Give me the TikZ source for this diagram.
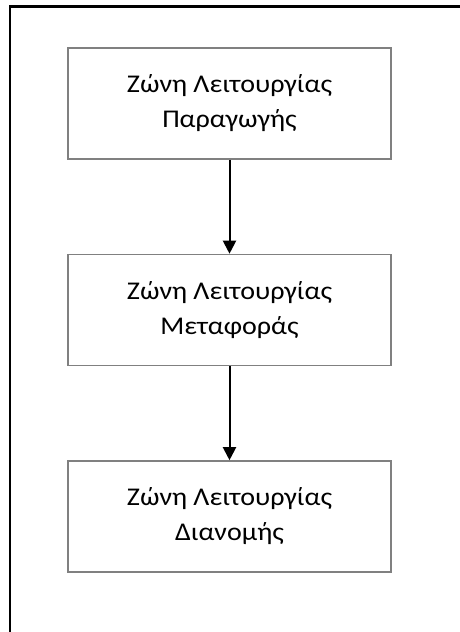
\documentclass[tikz,border=0pt]{standalone}
\usepackage{fontspec}
\setmainfont{Carlito}[FakeStretch=1.1]
\usetikzlibrary{arrows.meta}
\definecolor{boxline}{RGB}{128,128,128}
\begin{document}
\begin{tikzpicture}[x=1pt,y=-1pt,
  zone/.style={draw=boxline,line width=1.6pt,fill=white,minimum width=323pt,
    minimum height=111pt,inner sep=0pt,align=center,
    font=\fontsize{25.5}{35}\selectfont},
  flow/.style={draw=black,line width=2pt,-{Triangle[width=13pt,length=13pt]}}]
  \useasboundingbox (0,0) rectangle (459,632);
  \fill[white] (0,0) rectangle (459,632);
  % outer frame, running off the right and bottom edges
  \draw[black,line width=2.2pt] (10,640) -- (10,6.5) -- (470,6.5);
  \node[zone] (prod) at (229.5,103.5) {Ζώνη Λειτουργίας\\Παραγωγής};
  \node[zone] (trans) at (229.5,310) {Ζώνη Λειτουργίας\\Μεταφοράς};
  \node[zone] (dist) at (229.5,516.5) {Ζώνη Λειτουργίας\\Διανομής};
  \draw[flow] (prod) -- (trans);
  \draw[flow] (trans) -- (dist);
\end{tikzpicture}
\end{document}
